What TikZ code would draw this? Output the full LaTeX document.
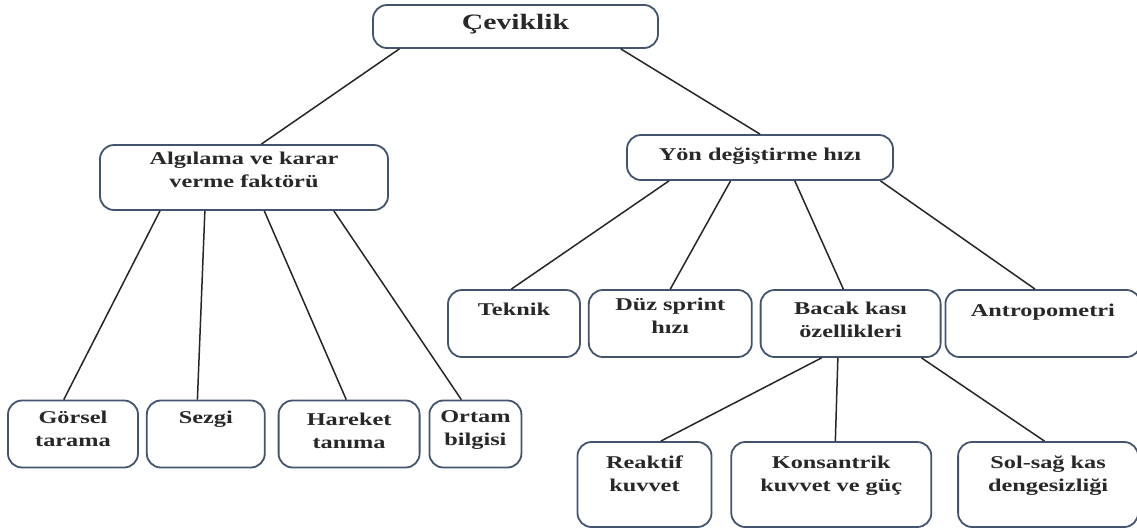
\documentclass[tikz,border=0pt]{standalone}
\usepackage{fontspec}
\usepackage{xcolor}
\usetikzlibrary{positioning,calc}
\newfontfamily\boxfont[FakeStretch=1.35]{Liberation Serif}
\definecolor{boxedge}{RGB}{66,84,110}
\definecolor{boxtext}{RGB}{40,40,40}

\begin{document}
\begin{tikzpicture}[x=1pt, y=-1pt,
  box/.style={draw=boxedge, line width=1.8pt, rounded corners=14pt, fill=white, minimum height=67pt, inner sep=0pt},
  txt/.style={anchor=north, align=center, inner sep=0pt, yshift=-#1, text=boxtext,
    font=\boxfont\bfseries\fontsize{18}{23}\selectfont},
  txt/.default=12pt,
  link/.style={line width=1.5pt, black!85}]
  \useasboundingbox (0,0) rectangle (1137,531);
  % top levels
  \node[box, minimum width=285pt, minimum height=43pt,
    label={[txt=10pt, font=\boxfont\bfseries\fontsize{22}{26}\selectfont]north:Çeviklik}] (cev) at (515.5,26.5) {};
  \node[box, minimum width=288pt, minimum height=65pt,
    label={[txt=8pt]north:Algılama ve karar\\verme faktörü}] (algi) at (244,177.5) {};
  \node[box, minimum width=266pt, minimum height=45pt,
    label={[txt=14pt]north:Yön değiştirme hızı}] (yon) at (760,157.5) {};
  % second row, right
  \node[box, minimum width=132pt, label={[txt=14pt]north:Teknik}] (tek) at (514,323.5) {};
  \node[box, minimum width=163pt, right=7pt of tek, label={[txt=9pt]north:Düz sprint\\hızı}] (duz) {};
  \node[box, minimum width=180pt, right=7pt of duz, label={[txt=13pt]north:Bacak kası\\özellikleri}] (bacak) {};
  \node[box, minimum width=195pt, right=3pt of bacak, label={[txt=15pt]north:Antropometri}] (antro) {};
  % left bottom row
  \node[box, minimum width=130pt, minimum height=67pt, label={[txt=11pt]north:Görsel\\tarama}] (gor) at (73,434) {};
  \node[box, minimum width=118pt, minimum height=67pt, right=7pt of gor, label={[txt=11pt]north:Sezgi}] (sez) {};
  \node[box, minimum width=141pt, minimum height=67pt, right=12pt of sez, label={[txt=13pt]north:Hareket\\tanıma}] (har) {};
  \node[box, minimum width=92pt, minimum height=67pt, right=8pt of har, label={[txt=11pt]north:Ortam\\bilgisi}] (ort) {};
  % right bottom row
  \node[box, minimum width=134pt, minimum height=85pt, label={[txt=15pt]north:Reaktif\\kuvvet}] (rea) at (644.5,484.5) {};
  \node[box, minimum width=200pt, minimum height=85pt, right=18pt of rea, label={[txt=15pt]north:Konsantrik\\kuvvet ve güç}] (kon) {};
  \node[box, minimum width=180pt, minimum height=85pt, right=25pt of kon, label={[txt=15pt]north:Sol-sağ kas\\dengesizliği}] (sol) {};
  % connectors
  \draw[link] ($(cev.south west)!0.095!(cev.south east)$) -- ($(algi.north west)!0.56!(algi.north east)$);
  \draw[link] ($(cev.south west)!0.867!(cev.south east)$) -- ($(yon.north west)!0.5!(yon.north east)$);
  \draw[link] ($(algi.south west)!0.21!(algi.south east)$) -- ($(gor.north west)!0.43!(gor.north east)$);
  \draw[link] ($(algi.south west)!0.365!(algi.south east)$) -- ($(sez.north west)!0.43!(sez.north east)$);
  \draw[link] ($(algi.south west)!0.57!(algi.south east)$) -- ($(har.north west)!0.48!(har.north east)$);
  \draw[link] ($(algi.south west)!0.81!(algi.south east)$) -- ($(ort.north west)!0.35!(ort.north east)$);
  \draw[link] ($(yon.south west)!0.16!(yon.south east)$) -- ($(tek.north west)!0.48!(tek.north east)$);
  \draw[link] ($(yon.south west)!0.39!(yon.south east)$) -- ($(duz.north west)!0.5!(duz.north east)$);
  \draw[link] ($(yon.south west)!0.63!(yon.south east)$) -- ($(bacak.north west)!0.46!(bacak.north east)$);
  \draw[link] ($(yon.south west)!0.95!(yon.south east)$) -- ($(antro.north west)!0.46!(antro.north east)$);
  \draw[link] ($(bacak.south west)!0.34!(bacak.south east)$) -- ($(rea.north west)!0.62!(rea.north east)$);
  \draw[link] ($(bacak.south west)!0.43!(bacak.south east)$) -- ($(kon.north west)!0.52!(kon.north east)$);
  \draw[link] ($(bacak.south west)!0.89!(bacak.south east)$) -- ($(sol.north west)!0.48!(sol.north east)$);
\end{tikzpicture}
\end{document}
